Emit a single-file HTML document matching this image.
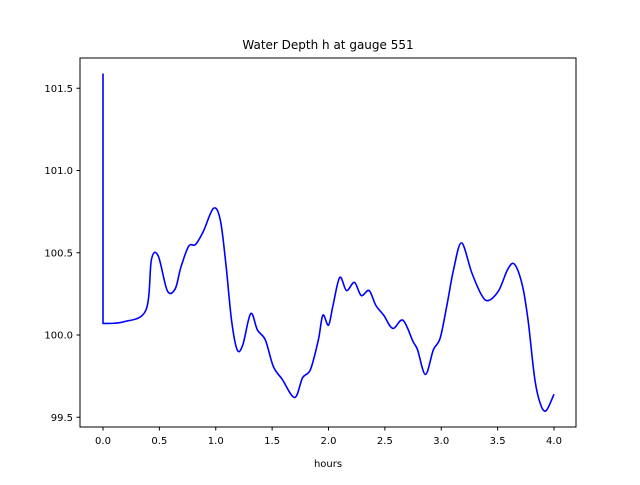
<!DOCTYPE html>
<html><head><meta charset="utf-8"><style>
body{margin:0;background:#fff;}
text{font-family:"DejaVu Sans","Liberation Sans",sans-serif;}
</style></head><body>
<svg id="chart" width="640" height="480" xmlns="http://www.w3.org/2000/svg"></svg>
<script>
const hours=[0,0,0.18,0.38,0.43,0.49,0.57,0.64,0.69,0.76,0.82,0.89,0.98,1.04,1.09,1.14,1.19,1.24,1.31,1.37,1.44,1.51,1.59,1.70,1.77,1.84,1.91,1.95,2.00,2.04,2.10,2.16,2.23,2.29,2.36,2.42,2.49,2.57,2.66,2.75,2.79,2.86,2.93,2.99,3.05,3.11,3.18,3.27,3.36,3.42,3.51,3.59,3.65,3.72,3.77,3.83,3.88,3.93,4.00];
const depth=[101.59,100.07,100.08,100.15,100.46,100.48,100.27,100.28,100.41,100.54,100.55,100.63,100.77,100.70,100.43,100.09,99.91,99.94,100.13,100.03,99.97,99.81,99.73,99.62,99.74,99.79,99.97,100.12,100.06,100.18,100.35,100.27,100.32,100.24,100.27,100.18,100.12,100.04,100.09,99.96,99.91,99.76,99.91,99.98,100.18,100.40,100.56,100.38,100.24,100.21,100.27,100.40,100.43,100.30,100.09,99.73,99.58,99.54,99.64];
const xTicks=[0,0.5,1,1.5,2,2.5,3,3.5,4];
const yTicks=[99.5,100,100.5,101,101.5];
const L=80,R=576,T=58,B=427;
const xs=v=>103+v*112.75;
const ys=v=>335-(v-100)*164.5;
const svg=document.getElementById('chart');
const NS='http://www.w3.org/2000/svg';
function mk(tag,attrs){const e=document.createElementNS(NS,tag);for(const k in attrs)e.setAttribute(k,attrs[k]);svg.appendChild(e);return e;}
const frame=mk('rect',{x:L,y:T,width:R-L,height:B-T,fill:'none',stroke:'#000','stroke-width':1});


xTicks.forEach(t=>{
 const l=mk('line',{x1:xs(t),x2:xs(t),y1:B,y2:B+3.5,stroke:'#000'});
 
 
 const tx=mk('text',{x:xs(t),y:B+17,'font-size':10,'text-anchor':'middle'});
 tx.textContent=t.toFixed(1);
 
 
});
yTicks.forEach(t=>{
 const l=mk('line',{x1:L-3.5,x2:L,y1:ys(t),y2:ys(t),stroke:'#000'});
 
 
 const tx=mk('text',{x:L-7,y:ys(t)+3.5,'font-size':10,'text-anchor':'end'});
 tx.textContent=t.toFixed(1);
 
 
});
// smooth path (Catmull-Rom) from data; first segment is straight vertical
const P=hours.map((h,i)=>[xs(h),ys(depth[i])]);
let d='M'+P[0][0]+','+P[0][1]+' L'+P[1][0]+','+P[1][1];
for(let i=1;i<P.length-1;i++){
 const p0=P[Math.max(i-1,1)],p1=P[i],p2=P[i+1],p3=P[Math.min(i+2,P.length-1)];
 const c1=[p1[0]+(p2[0]-p0[0])/6,p1[1]+(p2[1]-p0[1])/6];
 const c2=[p2[0]-(p3[0]-p1[0])/6,p2[1]-(p3[1]-p1[1])/6];
 d+=' C'+c1+' '+c2+' '+p2;
}
const line=mk('path',{d:d,fill:'none',stroke:'#0000ff','stroke-width':1.6,'stroke-linejoin':'round'});


const title=mk('text',{x:328,y:49,'font-size':12,'text-anchor':'middle'});
title.textContent='Water Depth h at gauge 551';


const xl=mk('text',{x:328,y:467,'font-size':10,'text-anchor':'middle'});
xl.textContent='hours';


</script>
</body></html>
